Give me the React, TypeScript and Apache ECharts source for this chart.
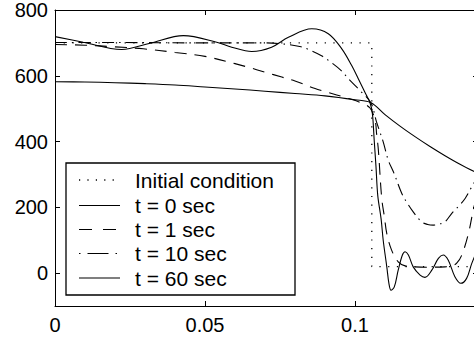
import React, { useEffect, useRef } from "react";
import * as echarts from "echarts";

// ---- data ----
const initialX = [0, 0.1056, 0.1056, 0.141];
const initialY = [700, 700, 20, 20];

const t0X = [0, 0.0094, 0.0222, 0.0317, 0.0428, 0.0539, 0.0589, 0.0656, 0.0722, 0.0778, 0.0856, 0.0911, 0.0956, 0.0989, 0.1011, 0.1033, 0.105, 0.1058, 0.1064, 0.107, 0.1076, 0.1087, 0.1094, 0.1106, 0.1113, 0.112, 0.1131, 0.1144, 0.1158, 0.1167, 0.1178, 0.1194, 0.1217, 0.1233, 0.1256, 0.1278, 0.1294, 0.1311, 0.1333, 0.1353, 0.1372, 0.1389, 0.141];
const t0Y = [719, 702, 680, 699, 722, 702, 687, 674, 687, 717, 743, 728, 682, 631, 591, 550, 518, 485, 404, 323, 235, 165, 100, 19, -31, -52, -42, 9, 55, 65, 55, 19, -6, -13, 9, 45, 55, 39, -11, -31, -16, 29, 75];

const t1X = [0, 0.01, 0.02, 0.0294, 0.04, 0.05, 0.06, 0.0644, 0.07, 0.0756, 0.08, 0.0867, 0.09, 0.0978, 0.102, 0.105, 0.1067, 0.1072, 0.1078, 0.1089, 0.1098, 0.1106, 0.1122, 0.1144, 0.1167, 0.12, 0.125, 0.13, 0.1322, 0.1339, 0.1356, 0.1378, 0.1394, 0.141];
const t1Y = [695, 693, 688, 682, 671, 659, 637, 626, 611, 596, 584, 561, 552, 531, 518, 502, 464, 424, 373, 228, 171, 120, 70, 34, 22, 19, 18, 19, 21, 30, 55, 120, 191, 250];

const t10X = [0, 0.02, 0.05, 0.07, 0.076, 0.082, 0.0855, 0.089, 0.092, 0.0955, 0.098, 0.102, 0.1053, 0.1072, 0.1094, 0.1111, 0.1128, 0.1156, 0.1172, 0.1194, 0.1222, 0.1242, 0.1261, 0.128, 0.13, 0.1322, 0.1345, 0.1367, 0.1389, 0.141];
const t10Y = [701, 701, 700, 700, 697, 688, 676, 660, 641, 615, 589, 552, 518, 459, 399, 343, 308, 242, 216, 186, 156, 148, 146, 149, 156, 181, 203, 227, 262, 295];

const t60X = [0, 0.01, 0.02, 0.03, 0.04, 0.05, 0.06, 0.07, 0.08, 0.09, 0.1, 0.1053, 0.11, 0.115, 0.12, 0.125, 0.13, 0.135, 0.141];
const t60Y = [582, 581, 579, 576, 572, 566, 560, 553, 546, 539, 527, 518, 482, 447, 415, 385, 357, 331, 303];

const legendNames = ["Initial condition", "t = 0 sec", "t = 1 sec", "t = 10 sec", "t = 60 sec"];
const xTickLabels = ["0", "0.05", "0.1"];
const yTickLabels = ["0", "200", "400", "600", "800"];

const zip = (xs: number[], ys: number[]) => xs.map((x, i) => [x, ys[i]]);

const FONT = '"Liberation Sans", Arial, Helvetica, sans-serif';

const dashes: any[] = [[1.2, 7.5], "solid", [12, 8], [12, 5, 1.5, 5], "solid"];
const legendDashes: any[] = [[1.2, 7.2], null, [13, 11], [1.5, 7, 21, 7], null];

export default function App() {
  const ref = useRef<HTMLDivElement>(null);
  useEffect(() => {
    if (!ref.current) return;
    const chart = echarts.init(ref.current, undefined, { renderer: "svg" });
    const axisLineStyle = { color: "#000", width: 1 };
    const baseX = {
      type: "value",
      min: 0,
      max: 0.141,
      interval: 0.05,
      axisLine: { show: true, onZero: false, lineStyle: axisLineStyle },
      axisTick: { show: true, inside: true, length: 5, lineStyle: axisLineStyle },
      splitLine: { show: false },
    };
    const baseY = {
      type: "value",
      min: -100,
      max: 800,
      splitNumber: 5,
      axisLine: { show: true, onZero: false, lineStyle: axisLineStyle },
      axisTick: { show: true, inside: true, length: 5, lineStyle: axisLineStyle },
      splitLine: { show: false },
    };
    const seriesData = [
      zip(initialX, initialY),
      zip(t0X, t0Y),
      zip(t1X, t1Y),
      zip(t10X, t10Y),
      zip(t60X, t60Y),
    ];
    const series = seriesData.map((d, i) => ({
      type: "line",
      name: legendNames[i],
      data: d,
      symbol: "none",
      smooth: i === 0 ? false : 0.35,
      silent: true,
      lineStyle: { color: "#000", width: i === 0 ? 1.3 : 1.1, type: dashes[i] },
    }));

    // legend drawn as graphic
    const rowY = [180, 205.5, 229.5, 253.5, 278];
    const legendChildren: any[] = [
      {
        type: "rect",
        shape: { x: 66, y: 163, width: 229, height: 132 },
        style: { fill: "#fff", stroke: "#000", lineWidth: 1.3 },
      },
    ];
    rowY.forEach((y, i) => {
      legendChildren.push({
        type: "line",
        shape: { x1: 79, y1: y, x2: 120, y2: y },
        style: {
          stroke: "#000",
          lineWidth: i === 0 ? 1.3 : 1.1,
          lineDash: legendDashes[i] || null,
        },
      });
      legendChildren.push({
        type: "text",
        x: 135,
        y: y,
        style: {
          text: legendNames[i],
          fill: "#000",
          font: `21px ${FONT}`,
          align: "left",
          verticalAlign: "middle",
        },
      });
    });

    chart.setOption({
      animation: false,
      backgroundColor: "#fff",
      textStyle: { fontFamily: FONT },
      grid: { left: 55, top: 9.5, width: 423, height: 296.5 },
      xAxis: [
        {
          ...baseX,
          position: "bottom",
          axisLabel: {
            show: true,
            color: "#000",
            fontSize: 20,
            fontFamily: FONT,
            margin: 9,
            showMaxLabel: false,
            formatter: (v: number) => {
              const idx = Math.round(v / 0.05);
              return Math.abs(v - idx * 0.05) < 1e-9 && idx < xTickLabels.length ? xTickLabels[idx] : "";
            },
          },
        },
        { ...baseX, position: "top", axisLabel: { show: false } },
      ],
      yAxis: [
        {
          ...baseY,
          position: "left",
          axisLabel: {
            show: true,
            color: "#000",
            fontSize: 20,
            fontFamily: FONT,
            margin: 7,
            showMinLabel: false,
            formatter: (v: number) => {
              const idx = Math.round(v / 200);
              return Math.abs(v - idx * 200) < 1e-6 && idx >= 0 && idx < yTickLabels.length ? yTickLabels[idx] : "";
            },
          },
        },
        { ...baseY, position: "right", axisLabel: { show: false } },
      ],
      series,
      graphic: [{ type: "group", children: legendChildren }],
    });
    return () => chart.dispose();
  }, []);

  return (
    <div style={{ position: "absolute", left: 0, top: 0, width: 474, height: 341, overflow: "hidden", background: "#fff" }}>
      <div ref={ref} style={{ width: 500, height: 341 }} />
    </div>
  );
}
